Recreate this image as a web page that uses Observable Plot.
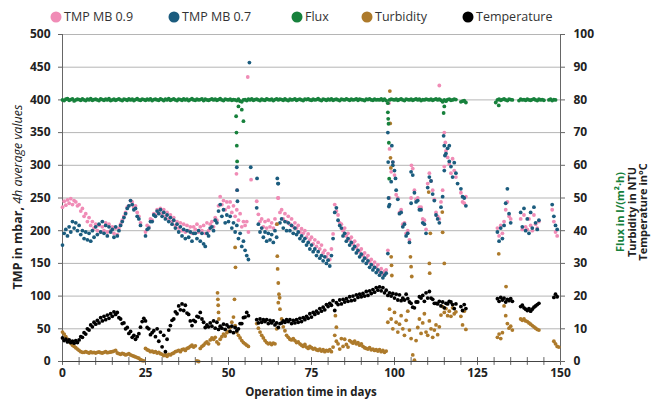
<!DOCTYPE html>
<html>
<head>
<meta charset="utf-8">
<script src="https://cdn.jsdelivr.net/npm/d3@7"></script>
<script src="https://cdn.jsdelivr.net/npm/@observablehq/plot@0.6"></script>
<style>
  html, body { margin: 0; padding: 0; background: #fff; }
  #chart { width: 651px; height: 401px; }
</style>
</head>
<body>
<div id="chart"></div>
<script>
// ---- axis ticks ----
const leftTicks = [0, 50, 100, 150, 200, 250, 300, 350, 400, 450, 500];
const xTicks = [0, 25, 50, 75, 100, 125, 150];
const minorTicks = [0,5,10,15,20,25,30,35,40,45,50,55,60,65,70,75,80,85,90,95,100,105,110,115,120,125,130,135,140,145,150];

// ---- sampling days (every half day, 0 .. 150) ----
const days = d3.range(0, 150.001, 0.5);

// ---- TMP MB 0.9 (mbar) ----
const tmp09 = [
 236,245,239,247,242,249,240,246,244,238,
 240,230,234,222,226,214,220,208,214,204,
 210,200,208,198,206,200,212,198,210,200,
 206,196,204,194,204,210,216,222,228,236,
 238,246,244,236,238,228,222,212,null,null,
 198,208,206,218,216,226,224,232,228,234,
 226,232,222,228,218,224,214,220,208,214,
 204,212,200,210,198,208,200,206,196,206,
 202,210,198,206,200,208,196,212,200,210,
 214,206,220,216,238,252,240,246,232,244,
 236,244,228,238,222,232,216,226,206,214,
 208,214,198,null,null,null,null,245,225,214,
 218,206,214,204,216,206,212,204,218,210,
 250,228,232,218,226,214,222,210,218,206,
 212,204,208,198,203,196,200,190,195,186,
 190,180,186,176,182,172,178,166,170,160,
 165,156,172,195,240,230,224,212,210,200,
 204,192,196,186,190,180,184,174,178,168,
 172,162,166,158,162,152,156,148,152,144,
 148,138,142,134,138,140,170,250,290,305,
 285,255,250,228,232,210,212,196,200,186,
 250,295,262,248,250,236,236,218,216,202,
 272,288,276,262,248,228,222,218,244,262,
 298,322,312,302,288,310,292,282,null,null,
 258,244,242,252,null,null,null,null,null,null,
 null,null,null,null,null,null,null,null,null,null,
 null,null,204,192,208,196,214,232,244,222,
 218,null,null,null,null,null,218,202,224,206,
 202,218,208,200,224,210,204,214,null,null,
 null,null,null,null,null,232,214,198,192,null,
 null
];
const tmp09ExtraDays = [52.4, 52.6, 55.8, 56.8, 64.9, 98.3, 98.5, 105.1, 113.5, 115.0, 115.3];
const tmp09ExtraVals = [287, 262, 435, 278, 250, 395, 325, 300, 422, 350, 335];

// ---- TMP MB 0.7 (mbar) ----
const tmp07 = [
 178,196,202,192,206,198,214,204,212,200,
 208,194,200,188,198,186,196,184,200,190,
 206,194,210,198,214,196,208,192,206,198,
 202,190,206,192,200,208,214,220,226,234,
 238,246,240,232,234,222,218,208,null,null,
 192,202,204,214,214,224,222,230,226,232,
 222,228,218,224,214,220,210,216,204,210,
 198,206,192,202,188,200,190,198,184,196,
 196,188,200,184,196,180,176,196,192,204,
 206,200,216,212,230,240,222,232,212,224,
 214,222,204,212,198,208,188,196,176,184,
 170,162,156,null,null,null,null,235,210,198,
 204,190,198,184,196,186,194,182,200,190,
 272,212,218,204,214,200,212,200,208,196,
 204,194,198,188,192,184,188,178,182,172,
 178,168,172,162,168,158,162,154,160,150,
 155,146,162,188,228,235,216,208,204,192,
 196,184,188,178,182,172,176,166,170,160,
 164,154,158,150,154,144,148,140,144,136,
 140,132,136,128,132,135,165,240,275,300,
 292,262,248,226,228,206,210,192,196,182,
 242,285,258,244,246,232,232,212,210,196,
 266,282,276,256,246,224,218,212,236,252,
 292,318,326,306,298,282,304,288,272,null,
 264,252,250,238,null,null,null,null,null,null,
 null,null,null,null,null,null,null,null,null,null,
 null,null,198,184,204,188,208,242,264,226,
 212,null,null,null,null,null,228,206,234,200,
 218,196,228,204,236,212,202,216,null,null,
 null,null,null,null,null,240,222,208,202,null,
 null
];
const tmp07ExtraDays = [52.5, 52.6, 52.7, 56.3, 56.7, 58.6, 64.7, 64.9, 98.0, 98.1, 98.2, 98.3, 99.2, 99.5, 100.3, 105.0, 114.8, 115.0, 115.2, 116.5];
const tmp07ExtraVals = [297, 262, 245, 457, 297, 280, 280, 272, 350, 305, 250, 237, 330, 305, 280, 290, 345, 330, 315, 330];

// ---- Flux (l/(m²·h)) ----
const flux = [
 80.0,79.8,80.2,80.4,79.9,80.1,80.3,79.7,80.0,80.2,
 80.1,79.9,80.3,80.0,79.8,80.2,80.0,80.4,79.9,80.1,
 80.2,80.0,79.8,80.3,80.1,79.9,80.2,80.0,80.4,79.8,
 80.0,80.2,79.9,80.1,80.3,80.0,79.8,80.2,80.1,79.9,
 80.3,80.0,80.2,79.8,80.1,80.4,80.0,79.9,80.2,80.1,
 79.9,80.2,80.0,80.3,79.8,80.1,80.2,80.0,79.9,80.3,
 80.1,79.8,80.2,80.0,80.4,79.9,80.1,80.3,80.0,79.8,
 80.2,80.1,79.9,80.3,80.0,80.2,79.8,80.1,80.4,80.0,
 79.9,80.2,80.0,80.1,80.3,79.8,80.2,80.0,79.9,80.1,
 80.3,80.0,80.2,79.9,80.1,80.4,80.0,79.8,80.2,80.1,
 80.0,80.2,79.9,80.1,80.0,79.8,80.2,79.6,79.4,80.0,
 80.1,79.8,80.2,80.0,80.3,79.9,80.1,80.2,80.0,79.8,
 80.2,80.0,79.9,80.3,80.1,80.0,80.2,79.8,80.1,80.3,
 80.0,80.2,80.1,79.9,80.3,80.0,79.8,80.2,80.0,80.1,
 80.3,79.9,80.1,80.2,80.0,79.8,80.2,80.1,80.3,80.0,
 79.9,80.2,80.0,80.1,80.4,80.0,79.8,80.2,80.1,79.9,
 80.2,80.0,80.3,79.9,80.1,80.2,80.0,79.8,80.2,80.1,
 80.0,80.3,80.1,79.9,80.2,80.0,80.1,80.3,79.9,80.2,
 80.1,80.0,79.8,80.2,80.1,80.3,80.0,79.9,80.2,80.0,
 80.1,80.0,80.3,79.9,80.2,79.8,79.0,80.0,80.2,80.1,
 80.0,80.2,79.9,80.1,80.3,80.0,79.8,80.2,80.1,80.0,
 80.2,79.9,80.1,80.3,80.0,80.2,79.8,80.1,80.0,80.2,
 80.1,80.0,80.2,79.9,80.1,80.3,80.0,80.2,79.9,79.4,
 80.0,79.6,80.1,80.2,79.9,80.0,80.2,80.1,null,null,
 79.4,79.6,79.8,79.2,null,null,null,null,null,null,
 null,null,null,null,null,null,null,null,null,null,
 null,79.2,80.0,80.2,79.9,80.1,80.3,80.0,79.8,80.2,
 80.1,80.0,null,null,null,79.8,80.2,80.0,80.1,79.9,
 80.2,80.0,79.9,80.1,80.3,80.0,79.8,80.2,80.0,80.1,
 79.9,null,null,80.0,80.2,79.8,80.1,80.0,null,null,
 null
];
const fluxExtraDays = [52.3, 52.4, 52.5, 52.6, 53.0, 54.0, 54.5, 98.0, 98.1, 98.2, 98.3, 98.4, 114.8, 115.0, 131.4];
const fluxExtraVals = [75, 70, 66, 61.2, 78, 77, 73.5, 76.2, 74.2, 72.7, 66.9, 55.9, 76, 78, 78.3];

// ---- Turbidity (NTU) ----
const turbidity = [
 9.0,8.4,7.6,6.8,6.2,5.6,5.0,4.6,4.2,3.8,
 3.4,3.0,2.8,2.8,3.0,2.8,2.6,2.9,2.7,2.8,
 2.6,2.8,2.9,2.7,2.6,2.8,3.0,2.7,2.8,2.9,
 3.0,3.2,3.4,2.6,2.4,2.2,2.5,2.3,2.0,2.2,
 2.4,2.0,1.8,1.6,1.4,1.2,1.0,0.6,0.3,0.2,
 4.0,3.6,3.4,3.0,3.2,2.8,3.0,2.6,2.8,2.4,
 2.2,1.8,2.0,1.6,2.2,2.0,2.4,2.6,3.0,3.2,
 3.4,3.0,3.6,3.8,3.4,4.0,4.2,4.6,5.0,4.4,
 4.8,0.2,0.0,4.0,4.6,5.0,5.6,6.0,5.4,6.6,
 7.2,6.8,7.4,6.0,5.4,6.8,7.6,8.4,7.8,8.8,
 9.2,10.4,12.0,13.6,11.0,9.0,8.0,7.2,6.4,5.8,
 5.4,5.0,4.6,null,null,null,null,11.6,10.2,9.0,
 8.0,7.2,6.4,5.8,5.4,5.6,5.2,5.6,5.4,10.0,
 18.0,16.0,13.0,10.6,9.4,8.0,7.4,6.8,6.6,7.0,
 6.4,5.8,6.0,5.4,5.0,4.6,5.2,4.4,4.0,4.6,
 4.2,3.8,4.0,3.6,3.4,3.8,3.2,3.6,3.0,3.4,
 3.2,3.6,3.0,4.4,8.0,6.2,5.4,3.8,7.0,4.6,
 6.8,5.2,4.4,6.4,6.0,5.6,6.2,5.4,5.8,5.0,
 5.4,4.6,4.2,4.0,3.8,4.2,3.6,3.8,3.4,3.6,
 3.2,3.6,3.0,3.4,2.8,3.2,12.0,16.0,13.0,10.0,
 15.0,12.0,9.0,11.4,14.0,10.0,8.0,12.6,15.4,9.6,
 7.0,2.0,0.4,6.4,10.4,13.0,8.6,11.8,14.6,9.0,
 8.0,12.4,10.0,7.4,9.6,11.2,8.2,10.6,14.2,16.8,
 15.0,16.2,14.0,15.4,13.8,16.4,14.6,15.2,null,null,
 13.8,11.2,15.4,9.8,null,null,null,null,null,null,
 null,null,null,null,null,null,null,null,null,null,
 null,null,7.4,8.4,7.0,8.8,17.0,14.0,11.6,10.2,
 10.8,9.6,null,null,null,null,13.0,12.6,13.0,12.4,
 12.2,11.8,11.4,11.0,10.6,10.2,9.8,9.6,null,null,
 null,null,null,null,null,null,6.2,5.4,4.6,4.4,
 null
];
const turbExtraDays = [46.7, 46.8, 46.9, 47.0, 47.1, 52.0, 52.1, 51.8, 64.6, 64.7, 64.8, 65.0, 65.2, 65.4, 82.2, 82.5, 98.6, 98.7, 98.8, 98.9, 99.0, 99.1, 99.2, 104.8, 105.0, 105.2, 110.3, 110.5, 110.6, 110.8, 114.4, 114.5, 115.0, 131.4, 133.6];
const turbExtraVals = [21.0, 19.0, 17.2, 15.0, 13.0, 34.9, 28.8, 19.0, 42.0, 32.2, 28.3, 24.0, 20.6, 19.5, 14.0, 10.5, 82.7, 72.8, 62.3, 59.2, 32.0, 29.4, 26.3, 32.0, 29.0, 26.0, 51.8, 30.0, 27.0, 39.2, 45.7, 39.5, 30.0, 32.9, 22.9];

// ---- Temperature (°C) ----
const temperature = [
 7.2,6.4,6.8,6.0,6.6,5.8,6.2,5.6,6.4,5.8,
 6.6,7.6,7.4,8.8,8.4,10.0,9.6,11.2,10.6,12.0,
 11.4,12.6,11.8,13.4,12.4,13.8,12.8,14.2,13.2,14.6,
 13.8,15.2,14.4,15.0,13.4,13.0,11.6,11.8,10.0,10.4,
 8.6,9.2,7.4,8.0,6.8,7.6,8.5,10.5,12.2,13.2,
 12.4,10.4,10.0,8.2,8.8,9.4,7.6,10.0,6.2,9.0,
 4.5,8.0,3.0,6.8,9.6,11.0,12.6,13.0,15.2,14.6,
 17.0,15.8,17.6,15.6,17.2,14.8,14.4,12.4,11.0,12.6,
 12.2,13.8,13.6,15.0,13.0,12.0,10.4,11.2,10.6,11.8,
 10.8,12.4,10.2,12.0,9.8,10.8,10.2,11.4,9.8,11.2,
 10.6,9.2,10.8,8.8,10.4,9.4,10.0,11.6,11.6,13.4,
 13.6,15.0,14.0,null,null,null,null,12.8,11.8,13.0,
 12.0,12.8,12.2,12.8,11.6,12.6,11.8,12.4,11.2,11.8,
 10.4,11.6,11.8,12.4,12.0,12.8,12.2,12.8,11.6,12.6,
 11.8,12.8,12.0,13.2,12.2,13.4,12.8,13.8,13.2,14.6,
 13.6,15.0,14.4,15.4,14.8,16.2,15.4,16.6,15.8,17.4,
 16.8,17.8,17.2,18.6,15.6,18.0,17.4,18.8,17.6,19.0,
 18.2,19.2,18.4,19.8,18.6,20.0,18.8,20.4,19.6,20.6,
 19.8,20.8,20.0,21.4,20.2,21.6,20.8,22.0,21.2,22.6,
 21.8,22.8,21.6,22.6,21.0,21.8,20.2,21.0,20.0,20.8,
 19.4,20.6,18.8,20.4,18.6,19.4,18.8,20.6,19.2,18.2,
 17.8,16.6,16.4,18.2,18.2,19.8,19.4,20.2,18.4,21.0,
 19.4,21.4,19.4,19.0,17.8,17.8,17.6,18.4,17.0,18.2,
 16.4,17.8,17.6,18.4,18.2,17.4,16.2,17.6,null,null,
 16.8,15.6,17.4,16.2,null,null,null,null,null,null,
 null,null,null,null,null,null,null,null,null,null,
 null,null,19.2,18.4,19.6,18.8,19.4,18.2,19.0,18.6,
 19.2,18.4,null,null,null,null,16.8,17.2,16.4,16.0,
 15.6,16.2,15.4,16.0,16.6,17.0,17.4,17.8,null,null,
 null,null,null,null,null,null,19.6,20.6,19.8,null,
 null
];

// ---- series meta ----
const seriesNames = ["TMP MB 0.9", "TMP MB 0.7", "Flux", "Turbidity", "Temperature"];
const seriesColors = ["#f08cb6", "#1b5c7e", "#17813c", "#ad7a2b", "#000000"];

function build(vals, exDays, exVals) {
  const pts = [];
  days.forEach((d, i) => { if (vals[i] != null) pts.push({day: d, v: vals[i]}); });
  (exDays || []).forEach((d, i) => pts.push({day: d, v: exVals[i]}));
  return pts;
}
const pPink = build(tmp09, tmp09ExtraDays, tmp09ExtraVals);
const pBlue = build(tmp07, tmp07ExtraDays, tmp07ExtraVals);
const pFlux = build(flux, fluxExtraDays, fluxExtraVals);
const pTurb = build(turbidity, turbExtraDays, turbExtraVals);
const pTemp = build(temperature, [], []);

const K = 5; // right axis (0–100) mapped onto left axis (0–500)
const R = 1.9;
const axisColor = "#666";

const chart = Plot.plot({
  width: 651, height: 401,
  marginLeft: 62, marginRight: 91, marginTop: 34, marginBottom: 40,
  x: {domain: [0, 150]},
  y: {domain: [0, 500]},
  style: {fontFamily: "'Open Sans', sans-serif", fontSize: "12px", fontWeight: "bold", color: "#222", background: "#fff"},
  marks: [
    Plot.gridY({ticks: leftTicks, stroke: "#b5b5b5", strokeOpacity: 1}),
    Plot.axisY({anchor: "left", ticks: leftTicks, tickSize: 4, tickPadding: 8, label: null, stroke: axisColor}),
    Plot.axisY({anchor: "right", ticks: leftTicks, tickSize: 4, tickPadding: 9, label: null, tickFormat: d => d / K, stroke: axisColor}),
    Plot.axisX({ticks: xTicks, tickSize: 0, tickPadding: 7, label: null}),
    Plot.ruleX([0, 150], {stroke: axisColor}),
    Plot.ruleX(minorTicks, {y1: -6, y2: 6, stroke: axisColor}),
    Plot.dot(pPink, {x: "day", y: "v", r: R, fill: seriesColors[0], stroke: null}),
    Plot.dot(pBlue, {x: "day", y: "v", r: R, fill: seriesColors[1], stroke: null}),
    Plot.dot(pTurb, {x: "day", y: d => d.v * K, r: R, fill: seriesColors[3], stroke: null}),
    Plot.dot(pTemp, {x: "day", y: d => d.v * K, r: R, fill: seriesColors[4], stroke: null}),
    Plot.dot(pFlux, {x: "day", y: d => d.v * K, r: R, fill: seriesColors[2], stroke: null}),
    Plot.ruleY([0], {stroke: "#444"})
  ]
});
document.getElementById("chart").appendChild(chart);

const svg = d3.select(chart);
const font = "'Open Sans', sans-serif";

// legend
const legendX = [56, 174, 297, 367, 468];
const lg = svg.append("g").attr("font-family", font).attr("font-size", 12.5)
  .attr("font-weight", "normal").attr("text-anchor", "start");
seriesNames.forEach((name, i) => {
  lg.append("circle").attr("cx", legendX[i]).attr("cy", 17).attr("r", 5.5).attr("fill", seriesColors[i]);
  lg.append("text").attr("x", legendX[i] + 8).attr("y", 17).attr("dy", "0.35em")
    .attr("text-anchor", "start").attr("fill", "#333").text(name);
});

// left axis title
const lt = svg.append("text")
  .attr("transform", "translate(18,197) rotate(-90)")
  .attr("text-anchor", "middle").attr("font-family", font).attr("font-size", 12.5)
  .attr("font-weight", "bold").attr("fill", "#222").attr("dy", "0.35em");
lt.append("tspan").text("TMP in mbar, ");
lt.append("tspan").attr("font-style", "italic").attr("font-weight", "normal").text("4h average values");

// right axis titles
const rightTitles = [
  {t: "Flux in l/(m²·h)", x: 620.5, c: "#17813c"},
  {t: "Turbidity in NTU", x: 632, c: "#222"},
  {t: "Temperature in°C", x: 643.5, c: "#222"}
];
rightTitles.forEach(o => {
  svg.append("text")
    .attr("transform", `translate(${o.x},212) rotate(-90)`)
    .attr("text-anchor", "middle").attr("font-family", font).attr("font-size", 11)
    .attr("font-weight", "bold").attr("fill", o.c).attr("dy", "0.35em").text(o.t);
});

// x axis title
svg.append("text")
  .attr("x", 311).attr("y", 392).attr("dy", "0.35em")
  .attr("text-anchor", "middle").attr("font-family", font).attr("font-size", 11.5)
  .attr("font-weight", "bold").attr("fill", "#222").text("Operation time in days");
</script>
</body>
</html>
